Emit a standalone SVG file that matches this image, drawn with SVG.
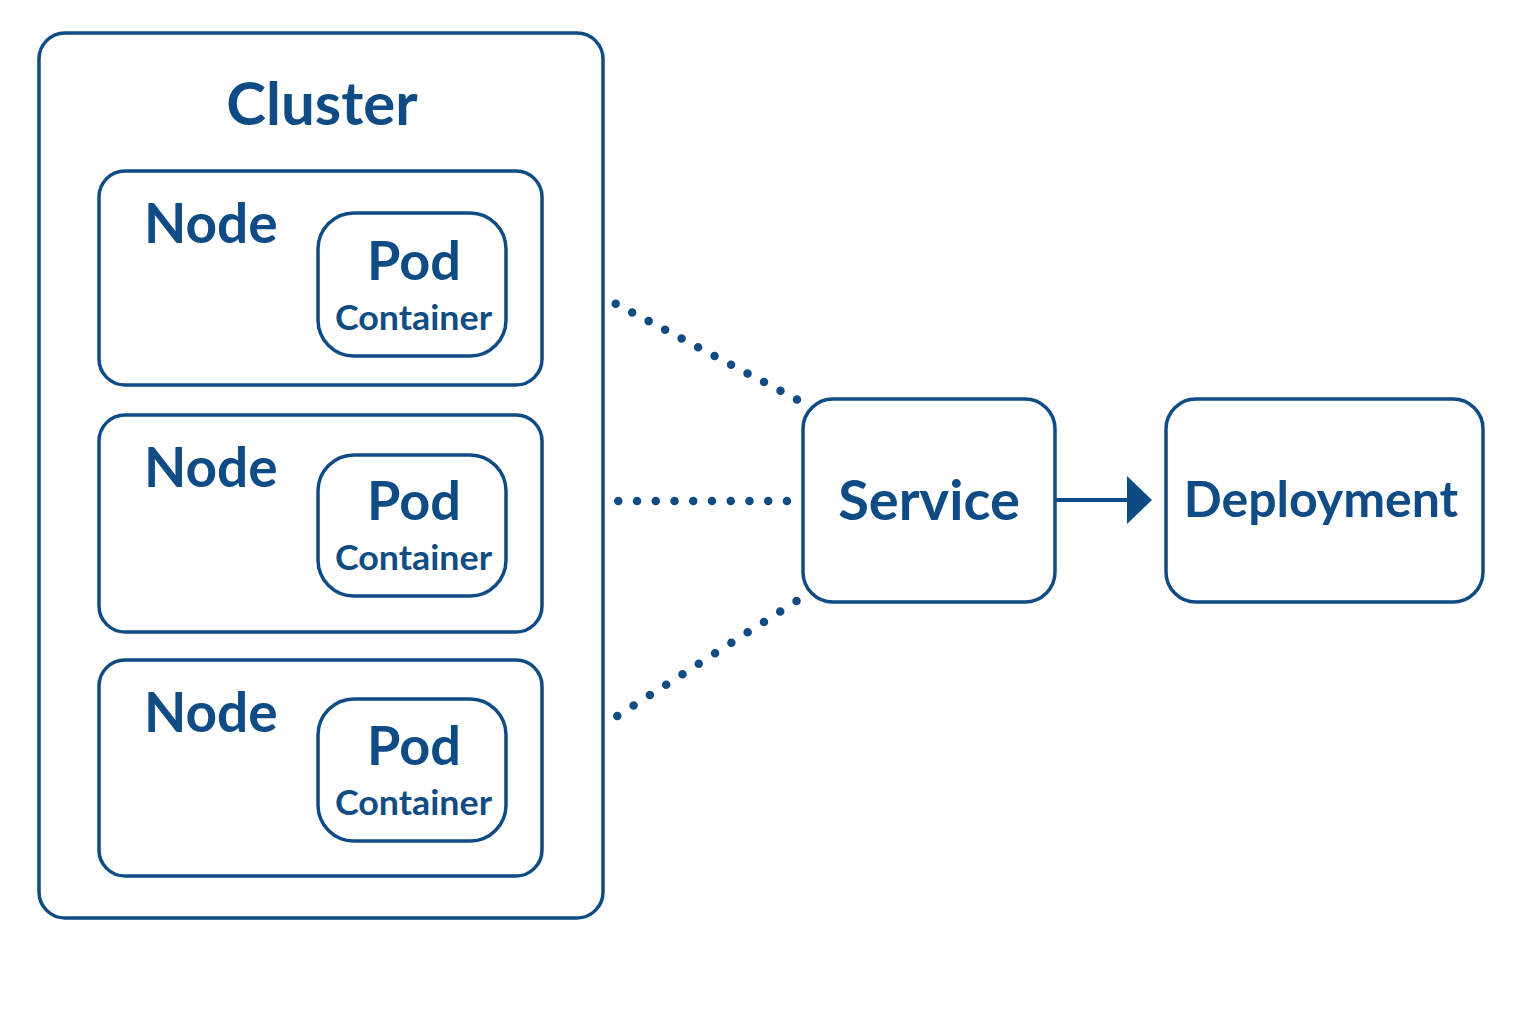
<svg xmlns="http://www.w3.org/2000/svg" width="1536" height="1024" viewBox="0 0 1536 1024">
<style>
.box{fill:#fff;stroke:#0f4c85;stroke-width:3.5}
.t{font-family:Lato,"Open Sans",sans-serif;font-weight:700;fill:#0f4c85}
.c{font-size:34px}
.dot{stroke:#0f4c85;stroke-width:8.5;stroke-linecap:round;fill:none}
</style>
<rect width="1536" height="1024" fill="#fff"/>
<g id="cluster">
<rect class="box" x="39" y="33" width="564" height="885" rx="26"/>
<text class="t" x="322" y="125" font-size="60" text-anchor="middle">Cluster</text>
</g>
<g id="node1">
<rect class="box" x="99" y="171" width="443" height="214" rx="26"/>
<text class="t" x="144" y="243" font-size="55">Node</text>
</g>
<g id="pod1">
<rect class="box" x="318" y="213" width="188" height="143" rx="36"/>
<text class="t" x="414" y="280" font-size="54" text-anchor="middle">Pod</text>
<text class="t c" x="335" y="330" textLength="157" lengthAdjust="spacingAndGlyphs">Container</text>
</g>
<g id="node2">
<rect class="box" x="99" y="415" width="443" height="217" rx="26"/>
<text class="t" x="144" y="487" font-size="55">Node</text>
</g>
<g id="pod2">
<rect class="box" x="318" y="455" width="188" height="141" rx="36"/>
<text class="t" x="414" y="520" font-size="54" text-anchor="middle">Pod</text>
<text class="t c" x="335" y="570" textLength="157" lengthAdjust="spacingAndGlyphs">Container</text>
</g>
<g id="node3">
<rect class="box" x="99" y="660" width="443" height="216" rx="26"/>
<text class="t" x="144" y="732" font-size="55">Node</text>
</g>
<g id="pod3">
<rect class="box" x="318" y="699" width="188" height="142" rx="36"/>
<text class="t" x="414" y="765" font-size="54" text-anchor="middle">Pod</text>
<text class="t c" x="335" y="815" textLength="157" lengthAdjust="spacingAndGlyphs">Container</text>
</g>
<g id="service">
<rect class="box" x="803" y="399" width="252" height="203" rx="30"/>
<text class="t" x="929" y="520" font-size="56" text-anchor="middle">Service</text>
</g>
<g id="deployment">
<rect class="box" x="1166" y="399" width="317" height="203" rx="30"/>
<text class="t" x="1321" y="517" font-size="50" text-anchor="middle">Deployment</text>
</g>
<g id="connectors">
<line class="dot" x1="615.7" y1="303.7" x2="797.9" y2="400" stroke-dasharray="0 18.64"/>
<line class="dot" x1="618.3" y1="501" x2="787.5" y2="501" stroke-dasharray="0 18.74"/>
<line class="dot" x1="617.3" y1="716" x2="797.3" y2="600.5" stroke-dasharray="0 19.36"/>
<line x1="1055" y1="500" x2="1130" y2="500" stroke="#0f4c85" stroke-width="4"/>
<polygon points="1127,476 1152,500 1127,524" fill="#0f4c85"/>
</g>
</svg>
